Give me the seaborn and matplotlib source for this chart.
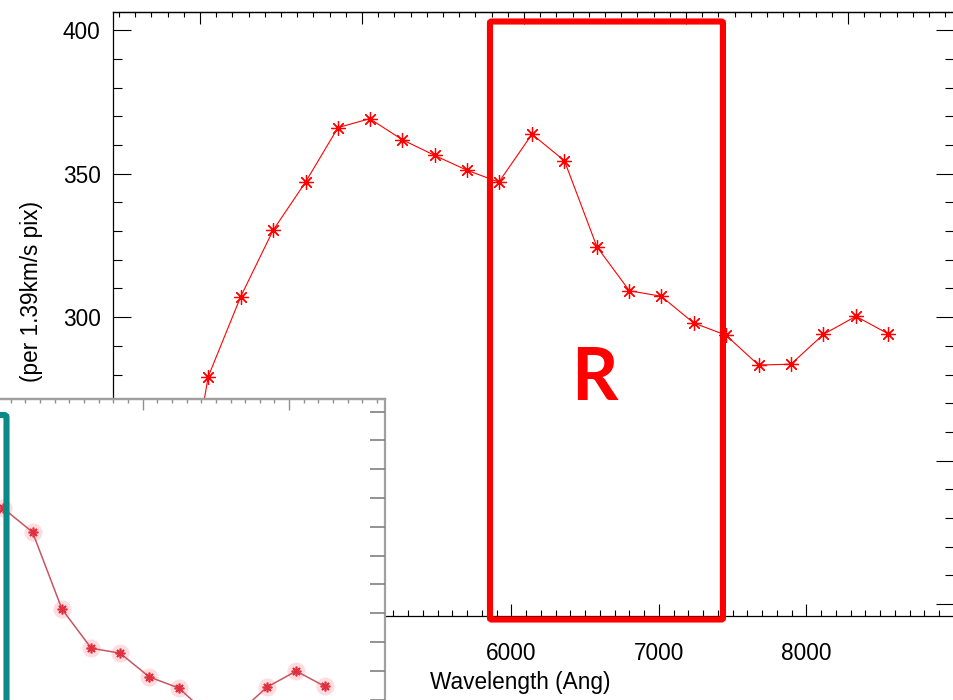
import numpy as np
import pandas as pd
import matplotlib
matplotlib.use("Agg")
import matplotlib.pyplot as plt
import seaborn as sns
from matplotlib.ticker import MultipleLocator, NullFormatter, FuncFormatter
from matplotlib.patches import FancyBboxPatch

# ---------------- data ----------------
wavelength = [3725, 3945, 4165, 4385, 4605, 4825, 5040, 5260, 5480, 5700, 5915,
              6140, 6360, 6580, 6800, 7015, 7235, 7455, 7675, 7895, 8115, 8335, 8550]
counts = [213.0, 279.2, 307.1, 330.3, 347.1, 366.1, 369.2, 361.9, 356.4, 351.2, 347.1,
          363.8, 354.5, 324.5, 309.2, 307.3, 298.0, 293.7, 283.3, 283.6, 294.0, 300.3, 294.3]
x_label = "Wavelength (Ang)"
y_label = "(per 1.39km/s pix)"
region_label = "R"
region_x = [5855, 7434]        # wavelength span of the red "R" box (approx.)
region_label_x = 6560          # where the "R" sits

W, H = 954, 700
XLIM = (3300, 9000)
YLIM = (195.8, 406.3)
TOP0, TOPSTEP = 3890.0, 1098.0   # unlabelled top axis scale


def fig_rect(x0, y0, x1, y1):
    """pixel box (top-left origin) -> figure fraction [l, b, w, h]"""
    return [x0 / W, 1 - y1 / H, (x1 - x0) / W, (y1 - y0) / H]


def wl_to_px(v):
    return 113 + (v - XLIM[0]) / (XLIM[1] - XLIM[0]) * 841


sns.set_style("ticks")
plt.rcParams["font.family"] = ["Liberation Sans", "DejaVu Sans"]
plt.rcParams["text.color"] = "black"
plt.rcParams["xtick.color"] = "black"
plt.rcParams["ytick.color"] = "black"

df = pd.DataFrame({"wavelength": wavelength, "counts": counts})

fig = plt.figure(figsize=(W / 100, H / 100), dpi=100)
fig.patch.set_facecolor("white")

# ---------------- main panel ----------------
ax = fig.add_axes(fig_rect(113, 12.3, 954, 616))
sns.lineplot(data=df, x="wavelength", y="counts", ax=ax, color="red", lw=0.8,
             marker=(8, 2, 0), markersize=10.5, markeredgewidth=0.9,
             markeredgecolor="red", estimator=None, sort=False)
ax.set_xlim(*XLIM)
ax.set_ylim(*YLIM)
ax.set_xlabel("")
ax.set_ylabel("")
ax.xaxis.set_major_locator(MultipleLocator(1000))
ax.xaxis.set_minor_locator(MultipleLocator(100))
ax.xaxis.set_major_formatter(FuncFormatter(
    lambda v, p: f"{v:.0f}" if 5500 < v < 8900 else ""))
ax.yaxis.set_major_locator(MultipleLocator(50))
ax.yaxis.set_minor_locator(MultipleLocator(10))
ax.tick_params(axis="x", which="major", direction="in", length=8.6, width=0.8,
               top=False, bottom=True, labelsize=16.3, pad=18.5,
               colors="black", labelcolor="black")
ax.tick_params(axis="x", which="minor", direction="in", length=4.5, width=0.8,
               top=False, bottom=True, colors="black")
ax.tick_params(axis="y", which="major", direction="in", length=13, width=0.8,
               left=True, right=True, labelsize=16.3, pad=9,
               colors="black", labelcolor="black")
ax.tick_params(axis="y", which="minor", direction="in", length=6.5, width=0.8,
               left=True, right=True, colors="black")
for s in ax.spines.values():
    s.set_visible(True)
    s.set_color("black")
    s.set_linewidth(0.9)

sec = ax.secondary_xaxis("top", functions=(lambda l: (l - TOP0) / TOPSTEP,
                                           lambda t: t * TOPSTEP + TOP0))
sec.xaxis.set_major_locator(MultipleLocator(1))
sec.xaxis.set_minor_locator(MultipleLocator(0.1))
sec.xaxis.set_major_formatter(NullFormatter())
sec.tick_params(axis="x", which="major", direction="in", length=8.6, width=0.8,
                colors="black")
sec.tick_params(axis="x", which="minor", direction="in", length=3.8, width=0.8,
                colors="black")
sec.spines["top"].set_linewidth(0.9)
sec.spines["top"].set_color("black")

fig.text(520 / W, 1 - 689 / H, x_label, ha="center", va="baseline", fontsize=16.3,
         color="black")
fig.text(32 / W, 1 - 291 / H, y_label, rotation=90, ha="center", va="center",
         fontsize=16.3, color="black")

# red region box and label
rx0, rx1 = wl_to_px(region_x[0]), wl_to_px(region_x[1])
box = FancyBboxPatch((rx0 / W, 1 - 619.5 / H), (rx1 - rx0) / W, (619.5 - 21.5) / H,
                     boxstyle="round,pad=0,rounding_size=0.002",
                     transform=fig.transFigure, fill=False, ec="#ff0000", lw=4.4,
                     zorder=10)
fig.add_artist(box)
fig.text(wl_to_px(region_label_x) / W, 1 - 400 / H, region_label, ha="center",
         va="baseline", fontsize=52, fontweight="bold",
         family=["Lato", "DejaVu Sans"], color="#ff0000", zorder=11)

# ---------------- inset (blurry pasted panel) ----------------
axin = fig.add_axes(fig_rect(-376, 399.3, 385, 939))
axin.set_zorder(3)
axin.set_facecolor("white")
axin.plot(wavelength, counts, "o", color="#ffc0c8", ms=13, alpha=0.55, mec="none")
sns.lineplot(data=df, x="wavelength", y="counts", ax=axin, color="#c85560", lw=1.1,
             marker=(8, 2, 0), markersize=7, markeredgewidth=1.2,
             markeredgecolor="#e0303f", estimator=None, sort=False)
axin.set_xlim(*XLIM)
axin.set_ylim(*YLIM)
axin.set_xlabel("")
axin.set_ylabel("")
axin.set_xticks([])
axin.set_yticks([])
for k, s in axin.spines.items():
    s.set_color("#a0a0a0")
    s.set_linewidth(1.6)
    s.set_visible(k in ("top", "right"))

isec = axin.secondary_xaxis("top", functions=(lambda l: (l - TOP0) / TOPSTEP,
                                              lambda t: t * TOPSTEP + TOP0))
isec.xaxis.set_major_locator(MultipleLocator(1))
isec.xaxis.set_minor_locator(MultipleLocator(0.1))
isec.xaxis.set_major_formatter(NullFormatter())
isec.tick_params(axis="x", which="major", direction="in", length=8, width=1.0,
                 color="#909090")
isec.tick_params(axis="x", which="minor", direction="in", length=3.2, width=1.0,
                 color="#909090")
isec.spines["top"].set_color("#a0a0a0")
isec.spines["top"].set_linewidth(1.6)

tw = axin.twinx()
tw.set_zorder(3.1)
tw.set_ylim(-18.31, 0.43)
tw.yaxis.set_major_locator(MultipleLocator(1))
tw.yaxis.set_major_formatter(NullFormatter())
tw.tick_params(axis="y", which="major", direction="in", length=11, width=1.2,
               color="#808080", right=True, left=False)
for k, s in tw.spines.items():
    s.set_visible(False)

# teal box edge (from the pasted panel)
teal = FancyBboxPatch((-120 / W, 1 - 820 / H), 126.5 / W, (820 - 415) / H,
                      boxstyle="round,pad=0,rounding_size=0.003",
                      transform=fig.transFigure, fill=False, ec="#0a8a86", lw=4.4,
                      zorder=12)
fig.add_artist(teal)

fig.savefig("out.png", dpi=100, facecolor="white")
